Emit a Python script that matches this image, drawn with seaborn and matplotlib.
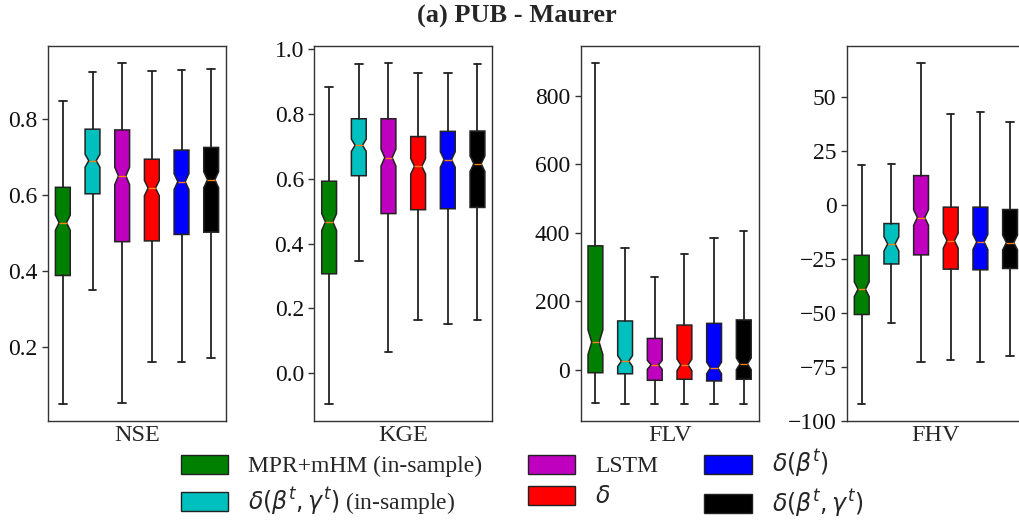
import matplotlib
matplotlib.use("Agg")
import matplotlib.pyplot as plt
import matplotlib.patches as mpatches
import seaborn as sns

# modelle und farben
models = ["MPR+mHM (in-sample)", r"$\delta(\beta^t, \gamma^t)$ (in-sample)", "LSTM",
          r"$\delta$", r"$\delta(\beta^t)$", r"$\delta(\beta^t, \gamma^t)$"]
colors = ["g", "c", "m", "r", "b", "k"]
metrics = ["NSE", "KGE", "FLV", "FHV"]

nse_lo = [0.050, 0.350, 0.052, 0.161, 0.160, 0.172]
nse_q1 = [0.388, 0.603, 0.477, 0.479, 0.496, 0.502]
nse_med = [0.527, 0.690, 0.650, 0.618, 0.635, 0.640]
nse_q3 = [0.620, 0.773, 0.771, 0.694, 0.718, 0.725]
nse_hi = [0.848, 0.923, 0.947, 0.925, 0.929, 0.931]
nse_cilo = [0.507, 0.673, 0.627, 0.598, 0.614, 0.619]
nse_cihi = [0.547, 0.707, 0.673, 0.638, 0.656, 0.661]

kge_lo = [-0.095, 0.346, 0.064, 0.164, 0.152, 0.163]
kge_q1 = [0.307, 0.610, 0.493, 0.505, 0.508, 0.512]
kge_med = [0.467, 0.704, 0.666, 0.639, 0.660, 0.647]
kge_q3 = [0.593, 0.786, 0.786, 0.731, 0.747, 0.748]
kge_hi = [0.885, 0.955, 0.958, 0.927, 0.928, 0.955]
kge_cilo = [0.441, 0.685, 0.640, 0.615, 0.636, 0.623]
kge_cihi = [0.493, 0.723, 0.692, 0.663, 0.684, 0.671]

flv_lo = [-97, -99, -99, -99, -99, -99]
flv_q1 = [-8, -11, -30, -27, -32, -27]
flv_med = [81, 26, 15, 15, 6, 18]
flv_q3 = [362, 143, 92, 131, 136, 146]
flv_hi = [895, 355, 272, 338, 386, 404]
flv_cilo = [45, 10, 2, -2, -11, 1]
flv_cihi = [117, 42, 28, 32, 23, 35]

fhv_lo = [-92.3, -55.0, -72.7, -72.1, -72.8, -70.2]
fhv_q1 = [-50.9, -27.5, -23.3, -29.9, -30.2, -29.6]
fhv_med = [-39.2, -18.2, -6.0, -16.7, -17.3, -17.6]
fhv_q3 = [-23.5, -8.8, 13.4, -1.2, -1.2, -2.3]
fhv_hi = [18.1, 19.0, 65.5, 42.0, 42.7, 38.1]
fhv_cilo = [-42.6, -21.5, -9.6, -20.2, -20.8, -21.0]
fhv_cihi = [-35.8, -14.9, -2.4, -13.2, -13.8, -14.2]

data = {
    "NSE": (nse_lo, nse_q1, nse_med, nse_q3, nse_hi, nse_cilo, nse_cihi),
    "KGE": (kge_lo, kge_q1, kge_med, kge_q3, kge_hi, kge_cilo, kge_cihi),
    "FLV": (flv_lo, flv_q1, flv_med, flv_q3, flv_hi, flv_cilo, flv_cihi),
    "FHV": (fhv_lo, fhv_q1, fhv_med, fhv_q3, fhv_hi, fhv_cilo, fhv_cihi),
}
yticks = {
    "NSE": [0.2, 0.4, 0.6, 0.8],
    "KGE": [0.0, 0.2, 0.4, 0.6, 0.8, 1.0],
    "FLV": [0, 200, 400, 600, 800],
    "FHV": [-100, -75, -50, -25, 0, 25, 50],
}

sns.set_style("ticks")
plt.rcParams["font.family"] = ["Liberation Serif", "DejaVu Serif"]
plt.rcParams["mathtext.fontset"] = "dejavusans"

fig = plt.figure(figsize=(10.19, 5.23), dpi=100)
W, H = 1019, 523

for i, metric in enumerate(metrics):
    left = 48 + i * 266.3
    ax = fig.add_axes([left / W, (523 - 421) / H, 178 / W, 375 / H])
    lo, q1, med, q3, hi, cilo, cihi = data[metric]
    stats = []
    for j in range(len(models)):
        stats.append(dict(whislo=lo[j], q1=q1[j], med=med[j], q3=q3[j], whishi=hi[j],
                          cilo=cilo[j], cihi=cihi[j], fliers=[], label=models[j]))
    bp = ax.bxp(stats, positions=range(1, 7), widths=0.5, patch_artist=True, shownotches=True,
                showfliers=False,
                boxprops=dict(edgecolor="#222222", linewidth=1.1),
                whiskerprops=dict(color="#222222", linewidth=1.3),
                capprops=dict(color="#222222", linewidth=1.3),
                medianprops=dict(color="#ff7f0e", linewidth=1.0))
    for patch, col in zip(bp["boxes"], colors):
        patch.set_facecolor(col)
    ax.set_xlim(0.5, 6.5)
    ax.set_xticks([])
    ax.set_yticks(yticks[metric])
    ax.set_xlabel(metric, fontsize=17.5, labelpad=3)
    ax.tick_params(axis="y", labelsize=17, length=4, width=1, color="#333333", labelcolor="#111111")
    for sp in ax.spines.values():
        sp.set_color("#333333")
        sp.set_linewidth(1.0)

fig.suptitle("(a) PUB - Maurer", fontsize=19, fontweight="bold", x=0.507, y=0.99)

handles = [mpatches.Patch(facecolor=c, edgecolor="#222222", label=m) for m, c in zip(models, colors)]
fig.legend(handles=handles, loc="upper center", bbox_to_anchor=(0.512, 0.184), ncol=3,
           frameon=False, fontsize=17, handlelength=2.0, handleheight=0.85,
           labelspacing=0.35, columnspacing=1.95, handletextpad=0.85)

fig.savefig("out.png", dpi=100)
